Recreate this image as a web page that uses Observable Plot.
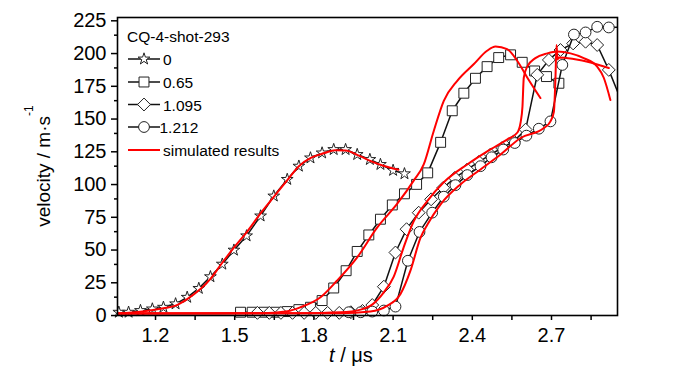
<!DOCTYPE html>
<html><head><meta charset="utf-8">
<script src="https://cdn.jsdelivr.net/npm/d3@7"></script>
<script src="https://cdn.jsdelivr.net/npm/@observablehq/plot@0.6"></script>
<style>body{margin:0;background:#fff;} #chart{width:700px;height:374px;}</style>
</head><body><div id="chart"></div>
<script>
const FONT = "'Liberation Sans', Arial, Helvetica, sans-serif";

// ---- axis ticks ----
const xDomain = [1.056, 2.95];
const yDomain = [-1.5, 226];
const xMajor = [1.2, 1.5, 1.8, 2.1, 2.4, 2.7];
const xMinor = [1.35, 1.65, 1.95, 2.25, 2.55, 2.85];
const yMajor = [0, 25, 50, 75, 100, 125, 150, 175, 200, 225];
const yMinor = [12.5, 37.5, 62.5, 87.5, 112.5, 137.5, 162.5, 187.5, 212.5];

// ---- legend labels ----
const legendTitle = "CQ-4-shot-293";
const seriesNames = ["0", "0.65", "1.095", "1.212"];
const simName = "simulated results";

// ---- measured series (t / µs, velocity / m·s-1) ----
const t0 = [1.061,1.098,1.143,1.188,1.230,1.276,1.320,1.364,1.408,1.453,1.497,1.545,1.598,1.648,1.699,1.743,1.787,1.831,1.875,1.920,1.964,2.012,2.052,2.100,2.143];
const v0 = [1.0,1.0,2.3,3.5,4.8,7.4,12.4,19.2,28.1,37.7,48.4,59.3,74.5,89.7,102.4,112.5,118.8,122.6,125.2,125.2,121.4,117.6,113.8,109.3,106.7];

const t1 = [1.522,1.566,1.610,1.655,1.699,1.743,1.787,1.831,1.875,1.922,1.964,2.008,2.052,2.097,2.143,2.189,2.231,2.280,2.324,2.368,2.412,2.456,2.500,2.545,2.589,2.636,2.681,2.728];
const v1 = [1,1,1,1,1.5,3.0,4.8,9.9,19.5,32.7,47.4,60.0,72.0,82.9,91.4,98.6,107.4,130.7,154.8,168.2,179.6,188.5,195.4,197.5,191.8,185.2,180.9,175.8];

const t2 = [1.586,1.631,1.675,1.719,1.763,1.807,1.852,1.896,1.940,1.984,2.021,2.065,2.109,2.151,2.197,2.244,2.290,2.334,2.381,2.425,2.469,2.513,2.557,2.602,2.646,2.690,2.734,2.782,2.829,2.873,2.917,2.961];
const v2 = [0.5,0.5,0.5,0.5,0.5,0.5,0.5,0.5,1.0,2.0,6.5,20.5,46.6,64.4,77,87.2,96,103.6,110,115.8,121.4,126.4,131.5,140.4,182.2,193.6,201.2,206.2,207.5,205,186,164];

const t3 = [1.932,1.977,2.021,2.065,2.109,2.156,2.200,2.248,2.292,2.336,2.381,2.431,2.473,2.517,2.561,2.605,2.652,2.696,2.741,2.785,2.829,2.873,2.917,2.961];
const v3 = [1,1,1.5,2.3,5.3,40.3,62.3,77,89.2,98,105.7,112.5,119.3,125.2,130.2,135.8,141.1,146.7,189.8,213,214.6,218.9,218.4,218.5];

// ---- simulated results ----
const s0t = [1.056,1.15,1.23,1.276,1.32,1.408,1.45,1.50,1.545,1.60,1.648,1.70,1.743,1.79,1.84,1.88,1.92,1.97,2.02,2.06,2.10,2.12];
const s0v = [0,1.5,4,6,11,26.4,38,51,62,77,89,102,112.5,119,122.5,124.7,124.5,120.5,116,113,110.7,109.8];

const s1t = [1.056,1.60,1.70,1.749,1.825,1.888,1.964,2.04,2.115,2.178,2.216,2.254,2.292,2.343,2.406,2.456,2.488,2.532,2.57,2.608,2.658];
const s1v = [0,0.3,1.8,4.8,12.4,25.2,42.9,65.8,83.7,101.5,113.8,139.4,162.4,177.7,190.5,200.6,203.9,201.9,193,180.2,164.5];

const s2t = [1.056,1.749,1.901,1.977,2.022,2.064,2.102,2.139,2.177,2.230,2.291,2.382,2.458,2.533,2.570,2.583,2.590,2.595,2.608,2.639,2.684,2.722,2.772,2.822,2.873,2.898,2.923];
const s2v = [0,0.3,1,3,7,16,28,50,70,86,100,114,124,133,138,146,158,180,188.5,195,198.6,200,198.6,195,188.5,180,163];

const s3t = [1.056,1.90,2.014,2.078,2.128,2.166,2.204,2.230,2.280,2.355,2.431,2.507,2.583,2.671,2.696,2.709,2.715,2.719,2.723,2.728,2.784,2.848,2.917];
const s3v = [0,0.3,1.5,6,15,33,58,68,83.4,98.6,110,121.4,134,141.6,146.7,154,180,205,194,195.5,194.3,191.7,187.4];

const rows = (t, v) => t.map((x, i) => ({t: x, v: v[i]}));
const series = [
  {data: rows(t0, v0), symbol: "star", r: 3.7},
  {data: rows(t1, v1), symbol: "square", r: 5.6},
  {data: rows(t2, v2), symbol: "diamond2", r: 5.8},
  {data: rows(t3, v3), symbol: "circle", r: 5.4}
];
const sims = [rows(s0t, s0v), rows(s1t, s1v), rows(s2t, s2v), rows(s3t, s3v)];

const marks = [];
for (const s of series) {
  marks.push(Plot.line(s.data, {x: "t", y: "v", stroke: "#111", strokeWidth: 1.5, clip: true}));
  marks.push(Plot.dot(s.data, {x: "t", y: "v", filter: d => d.t <= xDomain[1], symbol: s.symbol, r: s.r, fill: "white", stroke: "#222", strokeWidth: 1}));
}
for (const d of sims) {
  marks.push(Plot.line(d, {x: "t", y: "v", stroke: "#ff0000", strokeWidth: 2, curve: "monotone-x", clip: true}));
}
marks.push(
  Plot.axisY({ticks: yMajor, tickSize: 6, tickPadding: 5, fontSize: 20, strokeWidth: 1.5, label: null, dy: 2}),
  Plot.axisY({ticks: yMinor, tickSize: 3, strokeWidth: 1.5, tickFormat: () => "", label: null}),
  Plot.axisX({ticks: xMajor, tickSize: 5, tickPadding: 7, fontSize: 20, strokeWidth: 1.5, tickFormat: d => d.toFixed(1), label: null}),
  Plot.axisX({ticks: xMinor, tickSize: 5, strokeWidth: 1.5, tickFormat: () => "", label: null}),
  Plot.frame({stroke: "#000", strokeWidth: 1.6})
);

const svg = Plot.plot({
  width: 700, height: 374,
  marginLeft: 117, marginRight: 83, marginTop: 17, marginBottom: 59,
  x: {domain: xDomain},
  y: {domain: yDomain},
  style: {fontFamily: FONT, background: "white", color: "#000"},
  marks
});
document.getElementById("chart").appendChild(svg);

const g = d3.select(svg).append("g").attr("font-family", FONT).attr("fill", "#000").attr("text-anchor", "start");

// axis titles
const xt = g.append("text").attr("x", 351).attr("y", 362).attr("text-anchor", "middle").attr("font-size", 20);
xt.append("tspan").attr("font-style", "italic").text("t");
xt.append("tspan").text(" / \u03bcs");
g.append("text").attr("transform", "translate(50,116) rotate(-90)").attr("text-anchor", "end").attr("font-size", 19).text("velocity / m\u00b7s");
g.append("text").attr("transform", "translate(33,116) rotate(-90)").attr("text-anchor", "start").attr("font-size", 12).text("-1");

// legend
g.append("text").attr("x", 127).attr("y", 41.5).attr("font-size", 15.5).attr("text-anchor", "start").text(legendTitle);
const rowY = [59, 82, 104.5, 127, 150];
const symMap = {star: d3.symbolStar, square: d3.symbolSquare, diamond2: d3.symbolDiamond2, circle: d3.symbolCircle};
series.forEach((s, i) => {
  const y = rowY[i];
  g.append("line").attr("x1", 128).attr("x2", 160).attr("y1", y).attr("y2", y).attr("stroke", "#111").attr("stroke-width", 1.5);
  g.append("path").attr("transform", `translate(144,${y})`)
    .attr("d", d3.symbol(symMap[s.symbol], Math.PI * s.r * s.r)())
    .attr("fill", "white").attr("stroke", "#222").attr("stroke-width", 1);
  g.append("text").attr("x", i === 3 ? 159.5 : 163).attr("y", y + 6).attr("font-size", 15.5).attr("text-anchor", "start").text(seriesNames[i]);
});
g.append("line").attr("x1", 128).attr("x2", 160).attr("y1", rowY[4]).attr("y2", rowY[4]).attr("stroke", "#ff0000").attr("stroke-width", 2);
g.append("text").attr("x", 163).attr("y", rowY[4] + 6).attr("font-size", 15.5).attr("text-anchor", "start").text(simName);
</script></body></html>
